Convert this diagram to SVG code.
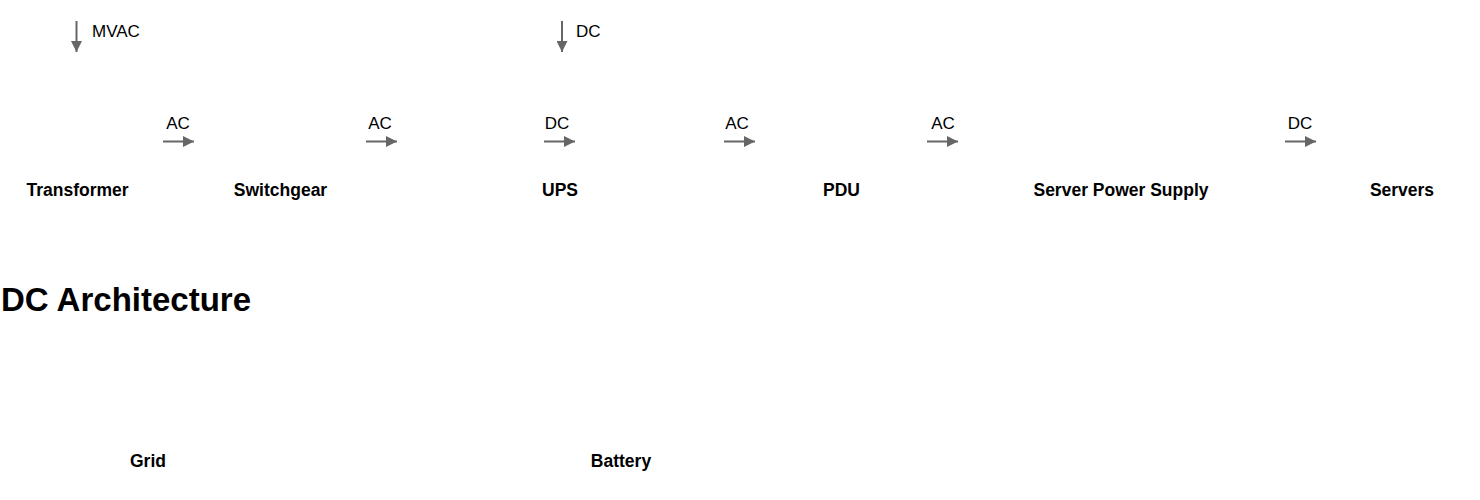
<svg xmlns="http://www.w3.org/2000/svg" width="1480" height="500" viewBox="0 0 1480 500">
<style>
text{font-family:"Liberation Sans",Arial,sans-serif;fill:#000}
.node{font-size:17.5px;font-weight:bold;text-anchor:middle}
.lbl{font-size:17px}
.mid{text-anchor:middle}
.title{font-size:33px;font-weight:bold}
.arr{stroke:#666;stroke-width:2;fill:none;marker-end:url(#ah)}
</style>
<defs>
<marker id="ah" viewBox="0 0 10 10" refX="10" refY="5" markerWidth="5.5" markerHeight="5.5" markerUnits="strokeWidth" orient="auto">
<path d="M0,0 L10,5 L0,10 z" fill="#666"/>
</marker>
</defs>
<rect width="1480" height="500" fill="#fff"/>
<g id="connectors">
<line class="arr" x1="76.5" y1="21" x2="76.5" y2="52"/>
<text class="lbl" x="92" y="37">MVAC</text>
<line class="arr" x1="562" y1="21" x2="562" y2="52"/>
<text class="lbl" x="576" y="37">DC</text>
<line class="arr" x1="163" y1="141.5" x2="194" y2="141.5"/>
<text class="lbl mid" x="178" y="129">AC</text>
<line class="arr" x1="366" y1="141.5" x2="397" y2="141.5"/>
<text class="lbl mid" x="380" y="129">AC</text>
<line class="arr" x1="544" y1="141.5" x2="575" y2="141.5"/>
<text class="lbl mid" x="557" y="129">DC</text>
<line class="arr" x1="724" y1="141.5" x2="755" y2="141.5"/>
<text class="lbl mid" x="737" y="129">AC</text>
<line class="arr" x1="927" y1="141.5" x2="958" y2="141.5"/>
<text class="lbl mid" x="943" y="129">AC</text>
<line class="arr" x1="1285" y1="141.5" x2="1316" y2="141.5"/>
<text class="lbl mid" x="1300" y="129">DC</text>
</g>
<g id="transformer"><text class="node" x="77.5" y="196">Transformer</text></g>
<g id="switchgear"><text class="node" x="280.5" y="196">Switchgear</text></g>
<g id="ups"><text class="node" x="560" y="196">UPS</text></g>
<g id="pdu"><text class="node" x="841.5" y="196">PDU</text></g>
<g id="server-power-supply"><text class="node" x="1121" y="196">Server Power Supply</text></g>
<g id="servers"><text class="node" x="1402" y="196">Servers</text></g>
<text class="title" x="1" y="311">DC Architecture</text>
<g id="grid"><text class="node" x="148" y="467">Grid</text></g>
<g id="battery"><text class="node" x="621" y="467">Battery</text></g>
</svg>
